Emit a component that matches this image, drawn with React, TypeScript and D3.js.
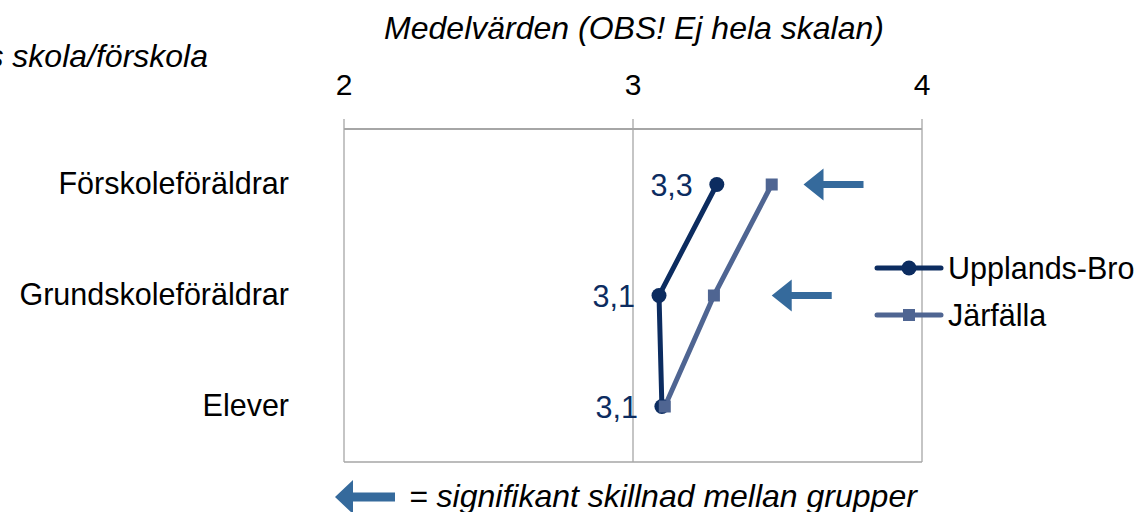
import React from "react";
import * as d3 from "d3";

// data
const categories = ["Förskoleföräldrar", "Grundskoleföräldrar", "Elever"];
const upplandsBro = [3.29, 3.09, 3.1];
const jarfalla = [3.48, 3.28, 3.11];
const xTicks = [2, 3, 4];
const seriesNames = ["Upplands-Bro", "Järfälla"];
// significant difference arrows (tip position in axis units)
const arrowCats = ["Förskoleföräldrar", "Grundskoleföräldrar"];
const arrowTips = [3.59, 3.48];

const W = 1142;
const H = 512;
const font = "'Liberation Sans', Arial, sans-serif";
const gridColor = "#a6a6a6";
const colUB = "#0c2c60";
const colJ = "#4f6592";
const arrowColor = "#356a9c";

// left-pointing arrow, tip at (0,0)
const arrowPath = (len: number, headLen: number, headH: number, shaft: number) =>
  `M0,0 L${headLen},${-headH} L${headLen},${-shaft / 2} L${len},${-shaft / 2} L${len},${shaft / 2} L${headLen},${shaft / 2} L${headLen},${headH} Z`;

const App = () => {
  const x = d3.scaleLinear().domain([2, 4]).range([344, 922]);
  const y = d3.scaleBand().domain(categories).range([129, 462]).padding(0);
  const cy = (c: string) => (y(c) as number) + y.bandwidth() / 2;

  const line = d3
    .line<number>()
    .x((d) => x(d))
    .y((_, i) => cy(categories[i]));

  const fmt = (v: number) => d3.format(".1f")(v).replace(".", ",");

  return (
    <svg
      width={W}
      height={H}
      style={{ position: "absolute", left: 0, top: 0, display: "block", background: "#fff" }}
      fontFamily={font}
    >
      {/* titles */}
      <text x={634} y={39} fontSize={32} fontStyle="italic" textAnchor="middle" fill="#000">
        Medelvärden (OBS! Ej hela skalan)
      </text>
      <text x={208} y={67} fontSize={32} fontStyle="italic" textAnchor="end" fill="#000">
        s skola/förskola
      </text>

      {/* gridlines and frame */}
      {xTicks.map((t) => (
        <g key={t}>
          <line x1={x(t)} x2={x(t)} y1={119} y2={462} stroke={gridColor} strokeWidth={1.3} />
          <text x={x(t)} y={95} fontSize={30} textAnchor="middle" fill="#000">
            {t}
          </text>
        </g>
      ))}
      <line x1={x(2)} x2={x(4)} y1={129} y2={129} stroke={gridColor} strokeWidth={2.2} />
      <line x1={x(2)} x2={x(4)} y1={462} y2={462} stroke={gridColor} strokeWidth={1.3} />

      {/* category labels */}
      {categories.map((c) => (
        <text key={c} x={289} y={cy(c) + 9} fontSize={30.5} textAnchor="end" fill="#000">
          {c}
        </text>
      ))}

      {/* series lines */}
      <path d={line(jarfalla) || ""} fill="none" stroke={colJ} strokeWidth={5} />
      <path d={line(upplandsBro) || ""} fill="none" stroke={colUB} strokeWidth={5} />
      {upplandsBro.map((v, i) => (
        <circle key={"u" + i} cx={x(v)} cy={cy(categories[i])} r={7.5} fill={colUB} />
      ))}
      {jarfalla.map((v, i) => (
        <rect key={"j" + i} x={x(v) - 6} y={cy(categories[i]) - 6} width={12} height={12} fill={colJ} />
      ))}

      {/* data labels */}
      {upplandsBro.map((v, i) => (
        <text
          key={"l" + i}
          x={x(v) - 24}
          y={cy(categories[i]) + 11}
          fontSize={30.5}
          textAnchor="end"
          fill={colUB}
        >
          {fmt(v)}
        </text>
      ))}

      {/* significance arrows */}
      {arrowCats.map((c, i) => (
        <path
          key={c}
          transform={`translate(${x(arrowTips[i])},${cy(c)})`}
          d={arrowPath(60, 20, 16, 7)}
          fill={arrowColor}
        />
      ))}

      {/* legend */}
      {seriesNames.map((name, i) => {
        const ly = 268 + i * 47;
        return (
          <g key={name}>
            <line x1={877} x2={941} y1={ly} y2={ly} stroke={i === 0 ? colUB : colJ} strokeWidth={5} strokeLinecap="round" />
            {i === 0 ? (
              <circle cx={909} cy={ly} r={7.5} fill={colUB} />
            ) : (
              <rect x={903} y={ly - 6} width={12} height={12} fill={colJ} />
            )}
            <text x={948} y={ly + 11} fontSize={30.5} fill="#000">
              {name}
            </text>
          </g>
        );
      })}

      {/* footnote */}
      <path transform={`translate(335,497)`} d={arrowPath(60, 18, 17, 9)} fill={arrowColor} />
      <text x={409} y={507} fontSize={32} fontStyle="italic" fill="#000">
        = signifikant skillnad mellan grupper
      </text>
    </svg>
  );
};

export default App;
